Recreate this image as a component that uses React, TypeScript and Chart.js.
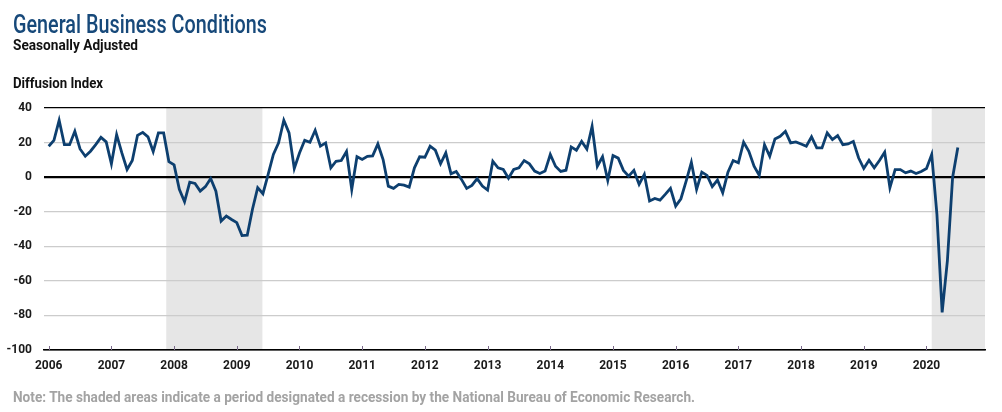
import React, { useEffect, useLayoutEffect, useRef } from "react";
import { Chart, registerables } from "chart.js";

Chart.register(...registerables);

// Monthly index: 0 = Jan 2006 ... 174 = Jul 2020
const startYear = 2006;
const generalBusinessConditions: number[] = [
  // 2006
  17.9, 21.3, 32.9, 18.8, 18.8, 26.5, 16.3, 12.1, 15.0, 18.8, 23.0, 20.4,
  // 2007
  7.7, 24.6, 14.0, 4.4, 9.6, 24.2, 25.9, 23.3, 14.8, 25.6, 25.6, 9.0,
  // 2008
  7.1, -7.1, -14.2, -2.9, -3.6, -8.1, -5.5, -0.8, -8.1, -25.4, -22.5, -24.5,
  // 2009
  -26.3, -33.8, -33.6, -18.6, -6.1, -9.6, 1.6, 13.1, 19.8, 32.9, 25.6, 5.0,
  // 2010
  14.0, 21.3, 20.2, 27.1, 17.9, 19.8, 5.4, 9.2, 9.6, 14.8, -7.1, 11.8,
  // 2011
  10.2, 12.0, 12.3, 19.2, 10.2, -5.2, -6.5, -4.2, -4.6, -5.8, 5.4, 11.8,
  // 2012
  11.5, 17.9, 15.6, 7.7, 14.0, 1.9, 3.3, -1.3, -6.5, -4.8, -0.9, -5.2,
  // 2013
  -7.5, 9.2, 5.4, 4.4, -0.6, 4.4, 5.4, 9.6, 7.7, 3.5, 2.1, 3.5,
  // 2014
  13.1, 6.3, 3.3, 4.0, 17.5, 15.6, 20.7, 16.3, 29.4, 6.3, 11.8, -1.9,
  // 2015
  12.5, 11.0, 3.9, 0.6, 3.9, -4.2, 1.6, -13.8, -12.3, -13.3, -10.0, -6.5,
  // 2016
  -16.7, -12.5, -2.3, 8.6, -7.1, 2.9, 1.0, -5.5, -1.7, -9.0, 2.9, 9.6,
  // 2017
  8.3, 20.2, 15.0, 6.3, 1.0, 18.8, 12.1, 22.1, 23.6, 26.5, 19.8, 20.4,
  // 2018
  19.2, 17.9, 23.3, 16.9, 16.9, 25.6, 21.7, 24.0, 18.8, 19.2, 20.7, 11.2,
  // 2019
  5.0, 9.8, 5.4, 9.6, 14.4, -6.1, 4.4, 4.4, 2.5, 3.5, 2.1, 3.3,
  // 2020
  5.0, 13.1, -21.5, -78.2, -48.5, -0.2, 17.2,
];

const yearTickLabels: string[] = [
  "2006", "2007", "2008", "2009", "2010", "2011", "2012", "2013",
  "2014", "2015", "2016", "2017", "2018", "2019", "2020",
];
const yTickValues: number[] = [40, 20, 0, -20, -40, -60, -80, -100];

// Recessions as month indices (start, end)
const recessionStarts: number[] = [22.5, 169];
const recessionEnds: (number | null)[] = [40.9, null];

const FONT = "Roboto, 'Liberation Sans', sans-serif";

const recessionPlugin = {
  id: "recessionShade",
  beforeDraw(chart: any) {
    const { ctx, chartArea, scales } = chart;
    const xs = scales.x;
    ctx.save();
    ctx.fillStyle = "#e6e6e6";
    recessionStarts.forEach((s, i) => {
      const e = recessionEnds[i];
      const x0 = xs.getPixelForValue(s);
      const x1 = e === null ? chartArea.right : xs.getPixelForValue(e);
      ctx.fillRect(x0, chartArea.top, x1 - x0, chartArea.bottom - chartArea.top);
    });
    ctx.restore();
  },
  afterDatasetsDraw(chart: any) {
    const { ctx, chartArea, scales } = chart;
    const xs = scales.x;
    ctx.save();
    ctx.strokeStyle = "#7a6a8a";
    ctx.lineWidth = 1;
    yearTickLabels.forEach((_, i) => {
      const x = Math.round(xs.getPixelForValue(i * 12)) + 0.5;
      ctx.beginPath();
      ctx.moveTo(x, chartArea.bottom - 4);
      ctx.lineTo(x, chartArea.bottom);
      ctx.stroke();
    });
    ctx.restore();
  },
};

function ChartCanvas() {
  const ref = useRef<HTMLCanvasElement | null>(null);
  useEffect(() => {
    if (!ref.current) return;
    const points = generalBusinessConditions.map((v, i) => ({ x: i, y: v }));
    const chart = new Chart(ref.current, {
      type: "line",
      data: {
        datasets: [
          {
            data: points,
            borderColor: "#0d3f6f",
            borderWidth: 2.8,
            pointRadius: 0,
            tension: 0,
            fill: false,
          },
        ],
      },
      options: {
        animation: false,
        responsive: false,
        maintainAspectRatio: false,
        events: [],
        layout: { padding: { left: 0, right: 17, top: 108, bottom: 0 } },
        plugins: {
          legend: { display: false },
          tooltip: { enabled: false },
          title: { display: false },
        },
        scales: {
          x: {
            type: "linear",
            min: -0.9,
            max: 179.2,
            afterBuildTicks: (axis: any) => {
              axis.ticks = yearTickLabels.map((_, i) => ({ value: i * 12 }));
            },
            afterFit: (axis: any) => {
              axis.height = 62;
            },
            ticks: {
              autoSkip: false,
              maxRotation: 0,
              padding: 9,
              color: "#1a1a1a",
              font: { family: FONT, size: 12, weight: "bold" },
              callback: (v: any) => {
                const i = Math.round(Number(v) / 12);
                return yearTickLabels[i] ?? "";
              },
            },
            grid: { display: false, drawTicks: false },
            border: { display: true, color: "#000000", width: 1.5 },
          },
          y: {
            type: "linear",
            min: -100,
            max: 40,
            afterBuildTicks: (axis: any) => {
              axis.ticks = yTickValues.map((v) => ({ value: v }));
            },
            afterFit: (axis: any) => {
              axis.width = 44;
            },
            ticks: {
              padding: 12,
              color: "#1a1a1a",
              font: { family: FONT, size: 12, weight: "bold" },
              callback: (v: any) => String(v),
            },
            grid: {
              drawTicks: false,
              color: (c: any) => {
                const v = c.tick?.value;
                if (v === 0 || v === 40 || v === -100) return "#000000";
                return "#cccccc";
              },
              lineWidth: (c: any) => {
                const v = c.tick?.value;
                if (v === 0) return 2.2;
                return 1.2;
              },
            },
            border: { display: false },
          },
        },
      },
      plugins: [recessionPlugin],
    });
    return () => chart.destroy();
  }, []);
  return (
    <canvas
      ref={ref}
      width={1002}
      height={412}
      style={{ position: "absolute", left: 0, top: 0, width: 1002, height: 412 }}
    />
  );
}

function FitText(props: {
  text: string;
  left: number;
  top: number;
  width: number;
  size: number;
  weight: number | string;
  color: string;
}) {
  const ref = useRef<HTMLSpanElement | null>(null);
  useLayoutEffect(() => {
    const el = ref.current;
    if (!el) return;
    el.style.transform = "none";
    const w = el.getBoundingClientRect().width;
    if (w > 0) el.style.transform = `scaleX(${props.width / w})`;
  });
  return (
    <span
      ref={ref}
      style={{
        position: "absolute",
        left: props.left,
        top: props.top,
        display: "inline-block",
        fontFamily: FONT,
        fontSize: props.size,
        fontWeight: props.weight as any,
        color: props.color,
        whiteSpace: "nowrap",
        lineHeight: 1,
        transformOrigin: "0 0",
      }}
    >
      {props.text}
    </span>
  );
}

export default function App() {
  return (
    <div
      style={{
        position: "fixed",
        left: 0,
        top: 0,
        width: 1002,
        height: 412,
        background: "#ffffff",
        overflow: "hidden",
      }}
    >
      <ChartCanvas />
      <FitText text="General Business Conditions" left={13} top={11.5} width={254} size={25} weight={500} color="#17497a" />
      <FitText text="Seasonally Adjusted" left={13} top={37.5} width={125} size={15} weight={700} color="#111111" />
      <FitText text="Diffusion Index" left={13} top={75.5} width={90} size={15} weight={700} color="#111111" />
      <FitText
        text="Note: The shaded areas indicate a period designated a recession by the National Bureau of Economic Research."
        left={13}
        top={390}
        width={682}
        size={14}
        weight={700}
        color="#a3a3a3"
      />
    </div>
  );
}
